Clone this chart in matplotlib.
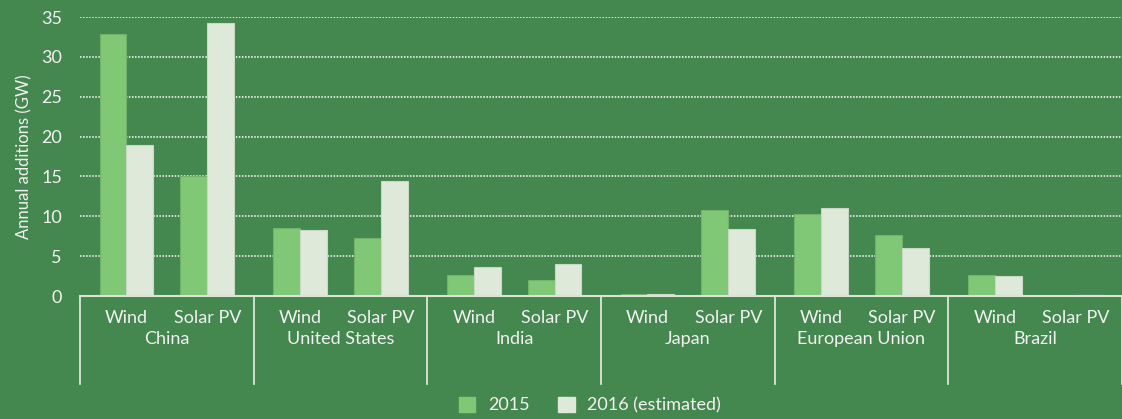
import numpy as np
import matplotlib.pyplot as plt
from matplotlib.patches import Patch

# data
regions = ['China', 'United States', 'India', 'Japan', 'European Union', 'Brazil']
techs = ['Wind', 'Solar PV']
add_2015 = [32.9, 15.0, 8.5, 7.3, 2.6, 2.0, 0.25, 10.75, 10.3, 7.7, 2.65, 0.05]
add_2016 = [18.9, 34.3, 8.3, 14.4, 3.6, 4.0, 0.2, 8.45, 11.0, 6.0, 2.55, 0.1]

bg = '#44874f'
c2015 = '#80c776'
c2016 = '#dfe9da'
txt = '#f2f2f2'

plt.rcParams['font.family'] = ['Lato', 'DejaVu Sans']

fig = plt.figure(figsize=(11.22, 4.19), dpi=100, facecolor=bg)
ax = fig.add_axes([80 / 1122, 1 - 296 / 419, 1 - 80 / 1122, 279 / 419])
ax.set_facecolor(bg)

# bars sit a little inward from the category centres, as in the original
idx = np.arange(len(add_2015))
x = idx + np.where(idx % 2 == 0, 0.035, -0.035)
w = 0.31
ax.bar(x - w / 2, add_2015, w, color=c2015, edgecolor='#74b26b', linewidth=0.8, zorder=3)
ax.bar(x + w / 2, add_2016, w, color=c2016, edgecolor='#c9d8c4', linewidth=0.8, zorder=3)

ax.set_xlim(-0.5, len(x) - 0.5)
ax.set_ylim(0, 35)
ax.set_yticks(range(0, 36, 5))
ax.tick_params(axis='y', length=0, colors=txt, labelsize=13, pad=13)
ax.tick_params(axis='x', length=0, labelbottom=False)
ax.yaxis.grid(True, color='white', linestyle=(0, (1, 1)), linewidth=1.1, zorder=1)
for s in ['top', 'right', 'left']:
    ax.spines[s].set_visible(False)
ax.spines['bottom'].set_color('#d8e4d4')
ax.spines['bottom'].set_linewidth(1.5)
ax.spines['bottom'].set_zorder(4)

ax.set_ylabel('Annual additions (GW)', color=txt, fontsize=12, labelpad=6)

# two-level category axis
trans = ax.get_xaxis_transform()
for i in range(len(x)):
    ax.text(x[i], -0.078, techs[i % 2], transform=trans, ha='center', va='center',
            color=txt, fontsize=13)
for g, name in enumerate(regions):
    ax.text(2 * g + 0.5, -0.155, name, transform=trans, ha='center', va='center',
            color=txt, fontsize=13)
for b in np.arange(-0.5, len(x), 2):
    ax.plot([b, b], [0, -0.315], transform=trans, color='#e8efe6', linewidth=1.2,
            clip_on=False)

handles = [Patch(facecolor=c2015, edgecolor=c2015, label='2015'),
           Patch(facecolor=c2016, edgecolor=c2016, label='2016 (estimated)')]
leg = fig.legend(handles=handles, loc='center', bbox_to_anchor=(590 / 1122, 1 - 405 / 419),
                 ncol=2, frameon=False, fontsize=13, handlelength=0.9, handleheight=0.9,
                 columnspacing=1.6, handletextpad=0.7)
for t in leg.get_texts():
    t.set_color(txt)

fig.savefig('out.png', dpi=100, facecolor=bg)
